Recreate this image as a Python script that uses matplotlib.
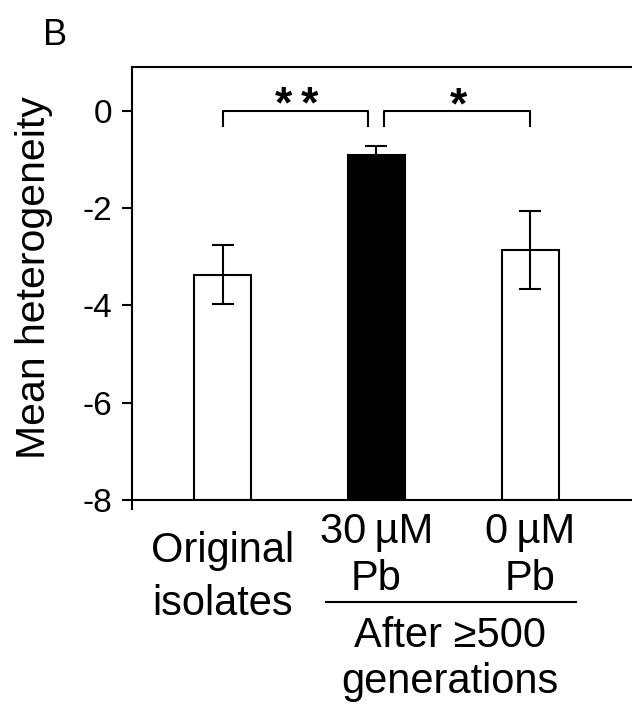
#!/usr/bin/env python3
# -*- coding: utf-8 -*-
"""Panel B: mean heterogeneity, original isolates vs. evolved lines."""

import matplotlib
matplotlib.use("Agg")
import matplotlib.pyplot as plt
import matplotlib.transforms as mtrans
from matplotlib.lines import Line2D

plt.rcParams["font.family"] = ["Liberation Sans", "DejaVu Sans"]

# ---------- data ----------
groups = ["Original\nisolates", "30\u2009\u00b5M\nPb", "0\u2009\u00b5M\nPb"]
means = [-3.37, -0.92, -2.86]
errs = [0.60, 0.20, 0.80]
fills = ["white", "black", "white"]
# significance brackets: (left bar, right bar, label)
sig = [(0, 1, "*\u2009*"), (1, 2, "*")]
yticks = [0, -2, -4, -6, -8]

BASE = -8.0
LW = 1.5
FS_CAT = 30

fig = plt.figure(figsize=(6.32, 7.05), dpi=100)
W, H = 632.0, 705.0
ax = fig.add_axes([131.7 / W, 1 - 500 / H, 1 - 131.7 / W, (500 - 66.7) / H])

xs = list(range(len(means)))
heights = [m - BASE for m in means]
ax.bar(xs, heights, bottom=BASE, width=0.37, color=fills,
       edgecolor="black", linewidth=LW, zorder=2)
ax.errorbar(xs, means, yerr=errs, fmt="none", ecolor="black",
            elinewidth=LW, capsize=8, capthick=LW, zorder=3)

# brackets
for i, j, lab in sig:
    x0 = xs[i] + (0.05 if i > 0 else 0.0)
    x1 = xs[j] - (0.055 if j < len(xs) - 1 else 0.0)
    ax.plot([x0, x0, x1, x1], [-0.31, 0, 0, -0.31], color="black",
            lw=LW, zorder=3, clip_on=False)
    ax.text((x0 + x1) / 2 + 0.01, -0.16, lab, ha="center", va="baseline",
            fontsize=32, fontweight="bold")

ax.set_ylim(BASE, 0.9)
ax.set_xlim(-0.59, 2.66)
ax.set_yticks(yticks)
ax.set_yticklabels([str(t) for t in yticks])
ax.set_xticks([-0.59])
ax.set_xticklabels([""])
ax.tick_params(axis="y", direction="out", length=7.2, width=LW,
               labelsize=24, pad=7)
ax.tick_params(axis="x", direction="out", length=7.2, width=LW)
ax.spines["right"].set_visible(False)
for s in ("left", "top", "bottom"):
    ax.spines[s].set_linewidth(LW)

# category labels below axis
tr = mtrans.blended_transform_factory(ax.transData, fig.transFigure)
def fy(px):
    return 1 - px / H

for x, g in zip(xs, groups):
    top, bot = g.split("\n")
    if x == 0:
        y1, y2 = 561.7, 615
    else:
        y1, y2 = 543, 590
    ax.text(x, fy(y1), top, transform=tr, ha="center", va="baseline", fontsize=FS_CAT)
    ax.text(x, fy(y2), bot, transform=tr, ha="center", va="baseline", fontsize=FS_CAT)

fig.add_artist(Line2D([0.675, 2.294], [fy(601.7), fy(601.7)], transform=tr,
                      color="black", lw=LW, clip_on=False))
ax.text(1.48, fy(646.7), "After \u2265500", transform=tr, ha="center",
        va="baseline", fontsize=FS_CAT)
ax.text(1.48, fy(693), "generations", transform=tr, ha="center",
        va="baseline", fontsize=FS_CAT)

fig.text(34 / W, fy(277.5), "Mean heterogeneity", rotation=90,
         ha="center", va="center", fontsize=29.5)
fig.text(43 / W, fy(45), "B", ha="left", va="baseline", fontsize=26)

fig.savefig("out.png", dpi=100)
